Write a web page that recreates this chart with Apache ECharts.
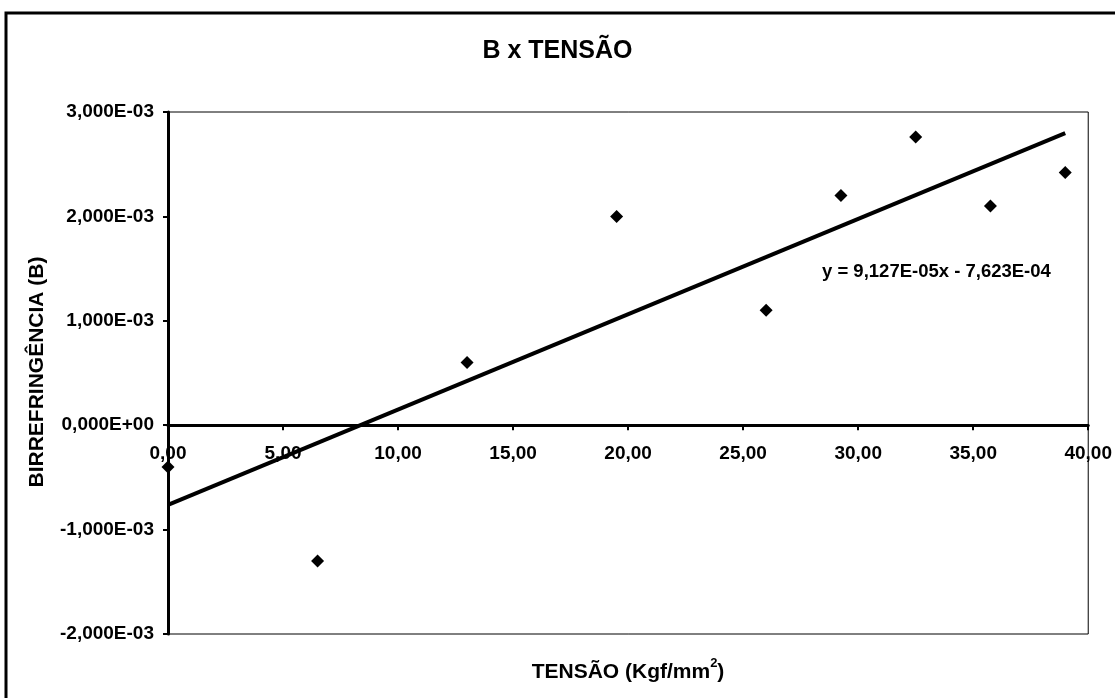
<!DOCTYPE html>
<html>
<head>
<meta charset="utf-8">
<script src="https://cdn.jsdelivr.net/npm/echarts@6/dist/echarts.min.js"></script>
<style>
  html, body { margin: 0; padding: 0; background: #fff; }
  #chart { width: 1115px; height: 698px; }
</style>
</head>
<body>
<div id="chart"></div>
<script>
// tensão (Kgf/mm2) and birrefringência
const tensao = [0, 6.5, 13, 19.5, 26, 29.25, 32.5, 35.75, 39];
const birref = [-0.4e-3, -1.3e-3, 0.6e-3, 2.0e-3, 1.1e-3, 2.2e-3, 2.76e-3, 2.1e-3, 2.42e-3];

// linear trend line end points (y = 9,127E-05x - 7,623E-04)
const trendX = [0, 39];
const trendY = [-7.623e-4, 2.797e-3];
const trendLabel = 'y = 9,127E-05x - 7,623E-04';

const font = '"Liberation Sans", Arial, sans-serif';

function sciLabel(v) {
  if (Math.abs(v) < 1e-12) return '0,000E+00';
  let exp = Math.floor(Math.log10(Math.abs(v)) + 1e-9);
  let mant = v / Math.pow(10, exp);
  let e = Math.abs(exp).toString().padStart(2, '0');
  return mant.toFixed(3).replace('.', ',') + 'E' + (exp < 0 ? '-' : '+') + e;
}

const chart = echarts.init(document.getElementById('chart'));

// grid: top 112, height 522, y from -2e-3 to 3e-3 -> the zero line sits 208.8px above the bottom
const zeroOffset = -522 * 2 / 5;

chart.setOption({
  backgroundColor: '#fff',
  animation: false,
  textStyle: { fontFamily: font },
  title: {
    text: 'B x TENSÃO',
    left: 'center',
    top: 34,
    textStyle: { fontFamily: font, fontSize: 25, fontWeight: 'bold', color: '#000' }
  },
  grid: {
    left: 168, top: 112, right: 26, bottom: 64,
    show: true, borderColor: '#000', borderWidth: 1
  },
  xAxis: {
    type: 'value',
    min: 0, max: 40, interval: 5,
    offset: zeroOffset,
    axisLine: { onZero: false, lineStyle: { color: '#000', width: 3 } },
    axisTick: { length: 5, lineStyle: { color: '#000', width: 2 } },
    axisLabel: {
      margin: 19, fontSize: 19, fontWeight: 'bold', color: '#000', fontFamily: font,
      formatter: v => v.toFixed(2).replace('.', ',')
    },
    splitLine: { show: false }
  },
  yAxis: {
    type: 'value',
    min: -0.002, max: 0.003, interval: 0.001,
    axisLine: { show: true, onZero: false, lineStyle: { color: '#000', width: 3 } },
    axisTick: { show: true, length: 5, lineStyle: { color: '#000', width: 2 } },
    axisLabel: {
      margin: 14, fontSize: 19, fontWeight: 'bold', color: '#000', fontFamily: font,
      formatter: sciLabel
    },
    splitLine: { show: false }
  },
  series: [
    {
      type: 'line',
      data: trendX.map((x, i) => [x, trendY[i]]),
      showSymbol: false,
      lineStyle: { color: '#000', width: 4 },
      silent: true,
      z: 2
    },
    {
      type: 'scatter',
      data: tensao.map((x, i) => [x, birref[i]]),
      symbol: 'diamond',
      symbolSize: 13,
      itemStyle: { color: '#000', opacity: 1 },
      z: 3
    }
  ],
  graphic: [
    {
      type: 'rect',
      shape: { x: 6, y: 13, width: 1300, height: 900 },
      style: { fill: 'none', stroke: '#000', lineWidth: 3 },
      silent: true
    },
    {
      type: 'text',
      x: 822, y: 272,
      style: {
        text: trendLabel, fill: '#000', font: 'bold 18.5px ' + font,
        align: 'left', verticalAlign: 'middle'
      }
    },
    {
      type: 'text',
      x: 37, y: 372,
      rotation: Math.PI / 2,
      style: {
        text: 'BIRREFRINGÊNCIA (B)', fill: '#000', font: 'bold 21px ' + font,
        align: 'center', verticalAlign: 'middle'
      }
    },
    {
      type: 'text',
      x: 628, y: 670,
      style: {
        text: '{b|TENSÃO (Kgf/mm}{sup|2}{b|)}',
        fill: '#000',
        align: 'center', verticalAlign: 'middle',
        rich: {
          b: { fontSize: 21, fontWeight: 'bold', fontFamily: font, lineHeight: 26, verticalAlign: 'bottom' },
          sup: { fontSize: 13, fontWeight: 'bold', fontFamily: font, lineHeight: 15, verticalAlign: 'top' }
        }
      }
    }
  ]
});
</script>
</body>
</html>
